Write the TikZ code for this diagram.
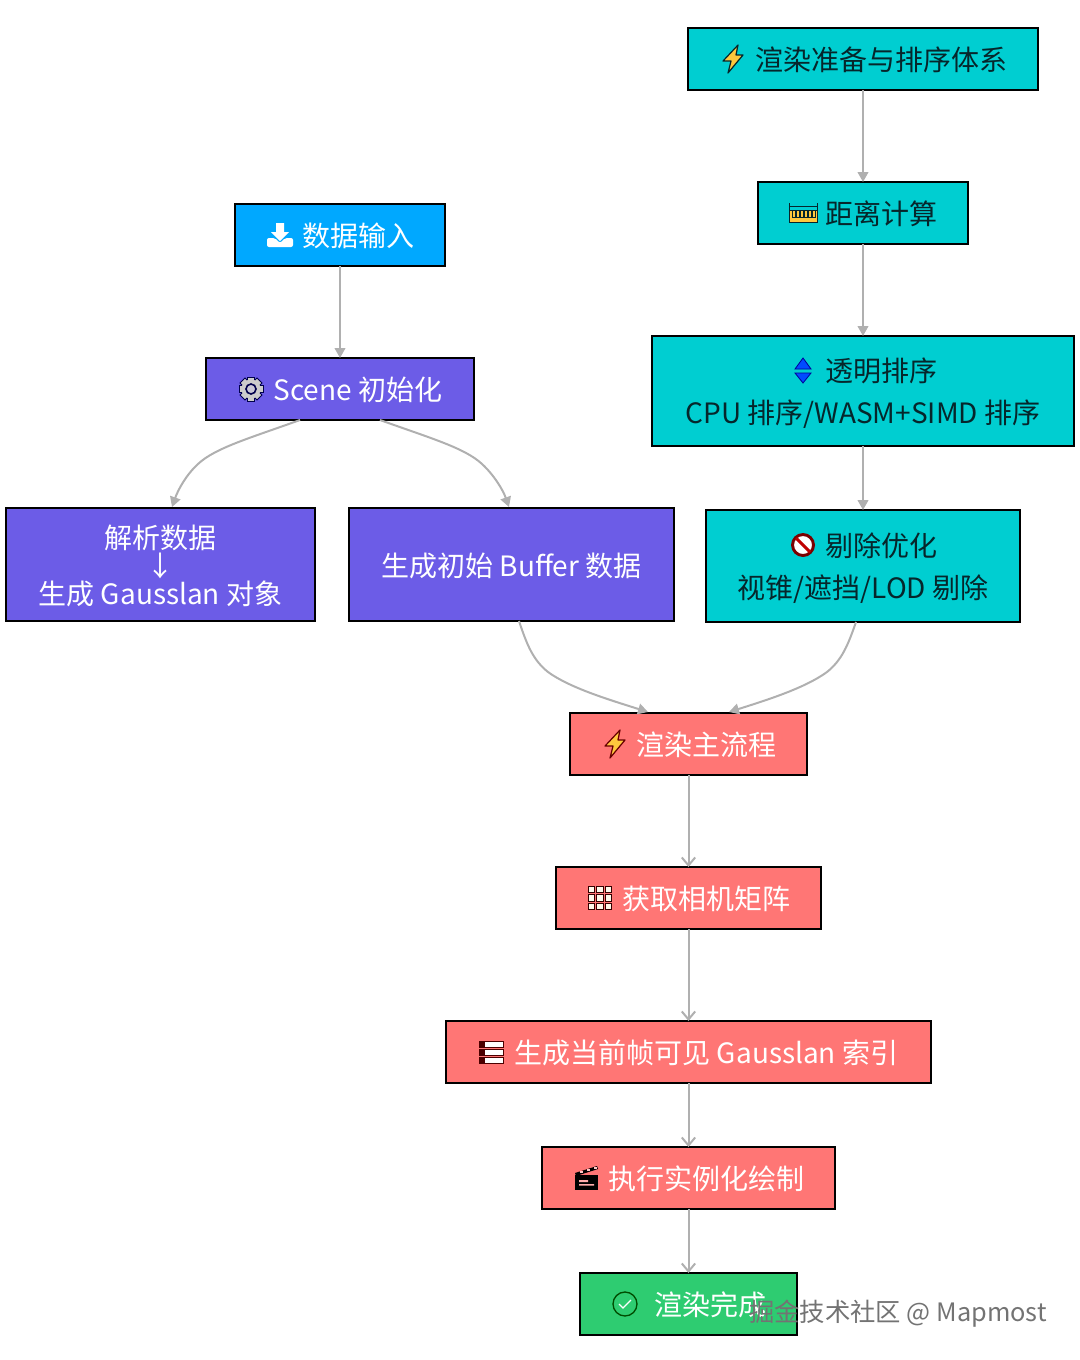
\documentclass[tikz,border=0pt]{standalone}
\usepackage{fontspec}
\setmainfont{Noto Sans CJK SC}
\usetikzlibrary{arrows.meta}

\definecolor{prepcyan}{HTML}{00CED1}
\definecolor{inputblue}{HTML}{00A8FF}
\definecolor{scenepurple}{HTML}{6C5CE7}
\definecolor{mainred}{HTML}{FF7675}
\definecolor{donegreen}{HTML}{2ECC71}
\definecolor{linkgray}{HTML}{B0B0B0}
\definecolor{boltyellow}{HTML}{FFC83D}
\definecolor{darktext}{HTML}{06262B}

\newcommand{\ICONGAP}{\hspace*{27pt}}

\tikzset{
	boxsize/.style n args={2}{minimum width=#1*0.75pt, minimum height=#2*0.75pt},
	stepbox/.style={draw=black, line width=1.5pt, outer sep=0pt, inner sep=0pt, align=center,
		text depth=0pt, font=\fontsize{21}{31.5}\selectfont},
	prepbox/.style={stepbox, fill=prepcyan, text=darktext},
	inputbox/.style={stepbox, fill=inputblue, text=white},
	scenebox/.style={stepbox, fill=scenepurple, text=white},
	mainbox/.style={stepbox, fill=mainred, text=white},
	donebox/.style={stepbox, fill=donegreen, text=white},
	link/.style={draw=linkgray, line width=1.5pt, -{Triangle[length=7.5pt,width=8pt]}},
	linkopen/.style={draw=linkgray, line width=1.5pt, -{Straight Barb[length=6pt,width=10pt]}},
	pics/bolt/.style={code={
		\draw[fill=boltyellow, draw=#1, line width=0.9pt, line join=round]
			(5,-14) -- (-10,2) -- (-2,2) -- (-5,14) -- (10,-4) -- (3,-4) -- cycle;
	}},
	pics/ruler/.style={code={
		\draw[fill=boltyellow, draw=darktext, line width=0.7pt] (-14,-3) rectangle (14,9);
		\draw[draw=darktext, line width=0.7pt] (-14,-10) -- (-14,-3) (14,-10) -- (14,-3) (-14,-7) -- (14,-7);
		\foreach \tickx in {-11,-7,-3,1,5,9}
			\draw[draw=darktext, line width=0.7pt] (\tickx,-3) -- (\tickx,4) -- (\tickx+3,4) -- (\tickx+3,-3);
	}},
	pics/updown/.style={code={
		\draw[fill=blue!70!cyan, draw=blue!60!black, line width=0.6pt] (-8,-1) -- (0,-12) -- (8,-1) -- cycle;
		\draw[fill=blue!70!cyan, draw=blue!60!black, line width=0.6pt] (-8,3) -- (0,13) -- (8,3) -- cycle;
	}},
	pics/noentry/.style={code={
		\draw[fill=white, draw=black!40!red!80!black, line width=2.2pt] (0,0) circle (10.5);
		\draw[draw=red!75!black, line width=2.2pt] (-7,-7) -- (7,7);
	}},
	pics/download/.style={code={
		\fill[white] (-4,-12) rectangle (4,-3) (-9,-3) -- (9,-3) -- (0,6) -- cycle;
		\fill[white, rounded corners=1.5pt] (-13,3) -- (-5,3) -- (0,8) -- (5,3) -- (13,3) -- (13,12) -- (-13,12) -- cycle;
	}},
	pics/gear/.style={code={
		\foreach \toothangle in {0,45,...,315}
			\draw[fill=black!20, draw=black!70!blue, line width=0.6pt, rotate=\toothangle]
				(-3.5,-12) rectangle (3.5,-7);
		\fill[black!20] (0,0) circle (9.5);
		\draw[fill=scenepurple!40!black!25, draw=black!70!blue, line width=1.2pt] (0,0) circle (5);
	}},
	pics/grid/.style={code={
		\foreach \cellx in {-12,-3.5,5}
			\foreach \celly in {-12,-3.5,5}
				\draw[fill=white!90!boltyellow, draw=black!80!red, line width=0.6pt]
					(\cellx,\celly) rectangle ++(6.5,6.5);
	}},
	pics/server/.style={code={
		\foreach \rowy in {-11,-3,5}
			\draw[fill=white, draw=black!70!red, line width=0.7pt] (-12,\rowy) rectangle ++(24,6);
		\foreach \rowy in {-11,-3,5}
			\draw[fill=black!70!red, draw=black!70!red, line width=0.7pt] (-12,\rowy) rectangle ++(5,6);
	}},
	pics/clapper/.style={code={
		\fill[black] (-11,-3) rectangle (12,12);
		\fill[black] (-11,-5) -- (11,-12) -- (12,-9) -- (-10,-2) -- cycle;
		\foreach \stripex in {-6,1,8}
			\fill[mainred!40!white] (\stripex,-8.5-\stripex*0.3) rectangle ++(2.5,2);
		\fill[mainred!60!white] (-7,2) rectangle (2,4) (-7,6) rectangle (8,7.5);
	}},
	pics/okmark/.style={code={
		\draw[draw=black!70!green, line width=1pt] (0,0) circle (12);
		\draw[draw=white, line width=1pt] (-6,0) -- (-2,4) -- (6,-4);
	}},
}

\begin{document}
\begin{tikzpicture}[x=0.75pt, y=-0.75pt]
	\useasboundingbox (0, 0) rectangle (1080, 1360);

	% right column
	\node[prepbox, boxsize={350}{62}] (ready) at (863, 59) {\ICONGAP 渲染准备与排序体系};
	\node[prepbox, boxsize={210}{62}] (dist) at (863, 213) {\ICONGAP 距离计算};
	\node[prepbox, boxsize={422}{110}] (sort) at (863, 391) {\ICONGAP 透明排序\\CPU 排序/WASM+SIMD 排序};
	\node[prepbox, boxsize={314}{112}] (cull) at (863, 566) {\ICONGAP 剔除优化\\视锥/遮挡/LOD 剔除};

	% left column
	\node[inputbox, boxsize={210}{62}] (input) at (340, 235) {\ICONGAP 数据输入};
	\node[scenebox, boxsize={268}{62}] (scene) at (340, 389) {\ICONGAP Scene 初始化};
	\node[scenebox, boxsize={309}{113}, font=\fontsize{21}{21}\selectfont] (parse) at (160.5, 564.5) {解析数据\\↓\\生成 Gausslan 对象};
	\node[scenebox, boxsize={325}{113}] (buffer) at (511.5, 564.5) {生成初始 Buffer 数据};

	% main flow
	\node[mainbox, boxsize={237}{62}] (main) at (688.5, 744) {\ICONGAP 渲染主流程};
	\node[mainbox, boxsize={265}{62}] (matrix) at (688.5, 898) {\ICONGAP 获取相机矩阵};
	\node[mainbox, boxsize={485}{62}] (index) at (688.5, 1052) {\ICONGAP 生成当前帧可见 Gausslan 索引};
	\node[mainbox, boxsize={293}{62}] (drawcall) at (688.5, 1178) {\ICONGAP 执行实例化绘制};
	\node[donebox, boxsize={217}{62}] (done) at (688.5, 1304) {\hspace*{33pt}渲染完成};

	% icons
	\pic at (733, 59) {bolt=darktext};
	\pic at (803, 213) {ruler};
	\pic at (803, 370) {updown};
	\pic at (803, 545) {noentry};
	\pic at (280, 235) {download};
	\pic at (251, 389) {gear};
	\pic at (615, 744) {bolt=black!60!red};
	\pic at (600, 898) {grid};
	\pic at (491, 1052) {server};
	\pic at (586, 1178) {clapper};
	\pic at (625, 1304) {okmark};

	\coordinate (sceneL) at (300, 420);
	\coordinate (sceneR) at (380, 420);
	\coordinate (parseT) at (172, 507);
	\coordinate (bufferT) at (509, 507);
	\coordinate (bufferB) at (519, 621);
	\coordinate (cullB) at (856, 622);
	\coordinate (mainL) at (648, 712);
	\coordinate (mainR) at (729, 712);

	\draw[link] (ready) -- (dist);
	\draw[link] (dist) -- (sort);
	\draw[link] (sort) -- (cull);
	\draw[link] (input) -- (scene);
	\draw[link] (sceneL) .. controls (250, 438) and (215, 448) .. (198, 464) .. controls (186, 475) and (178, 490) .. (parseT);
	\draw[link] (sceneR) .. controls (430, 438) and (465, 448) .. (482, 464) .. controls (494, 475) and (503, 490) .. (bufferT);
	\draw[link] (bufferB) .. controls (527, 645) and (533, 660) .. (548, 672) .. controls (570, 688) and (610, 700) .. (mainL);
	\draw[link] (cullB) .. controls (848, 645) and (842, 660) .. (827, 672) .. controls (805, 688) and (767, 700) .. (mainR);
	\draw[linkopen] (main) -- (matrix);
	\draw[linkopen] (matrix) -- (index);
	\draw[linkopen] (index) -- (drawcall);
	\draw[linkopen] (drawcall) -- (done);

	\node[text=black!55, font=\fontsize{19}{20}\selectfont, inner sep=0pt] (mark) at (898, 1314) {掘金技术社区 @ Mapmost};
\end{tikzpicture}
\end{document}
